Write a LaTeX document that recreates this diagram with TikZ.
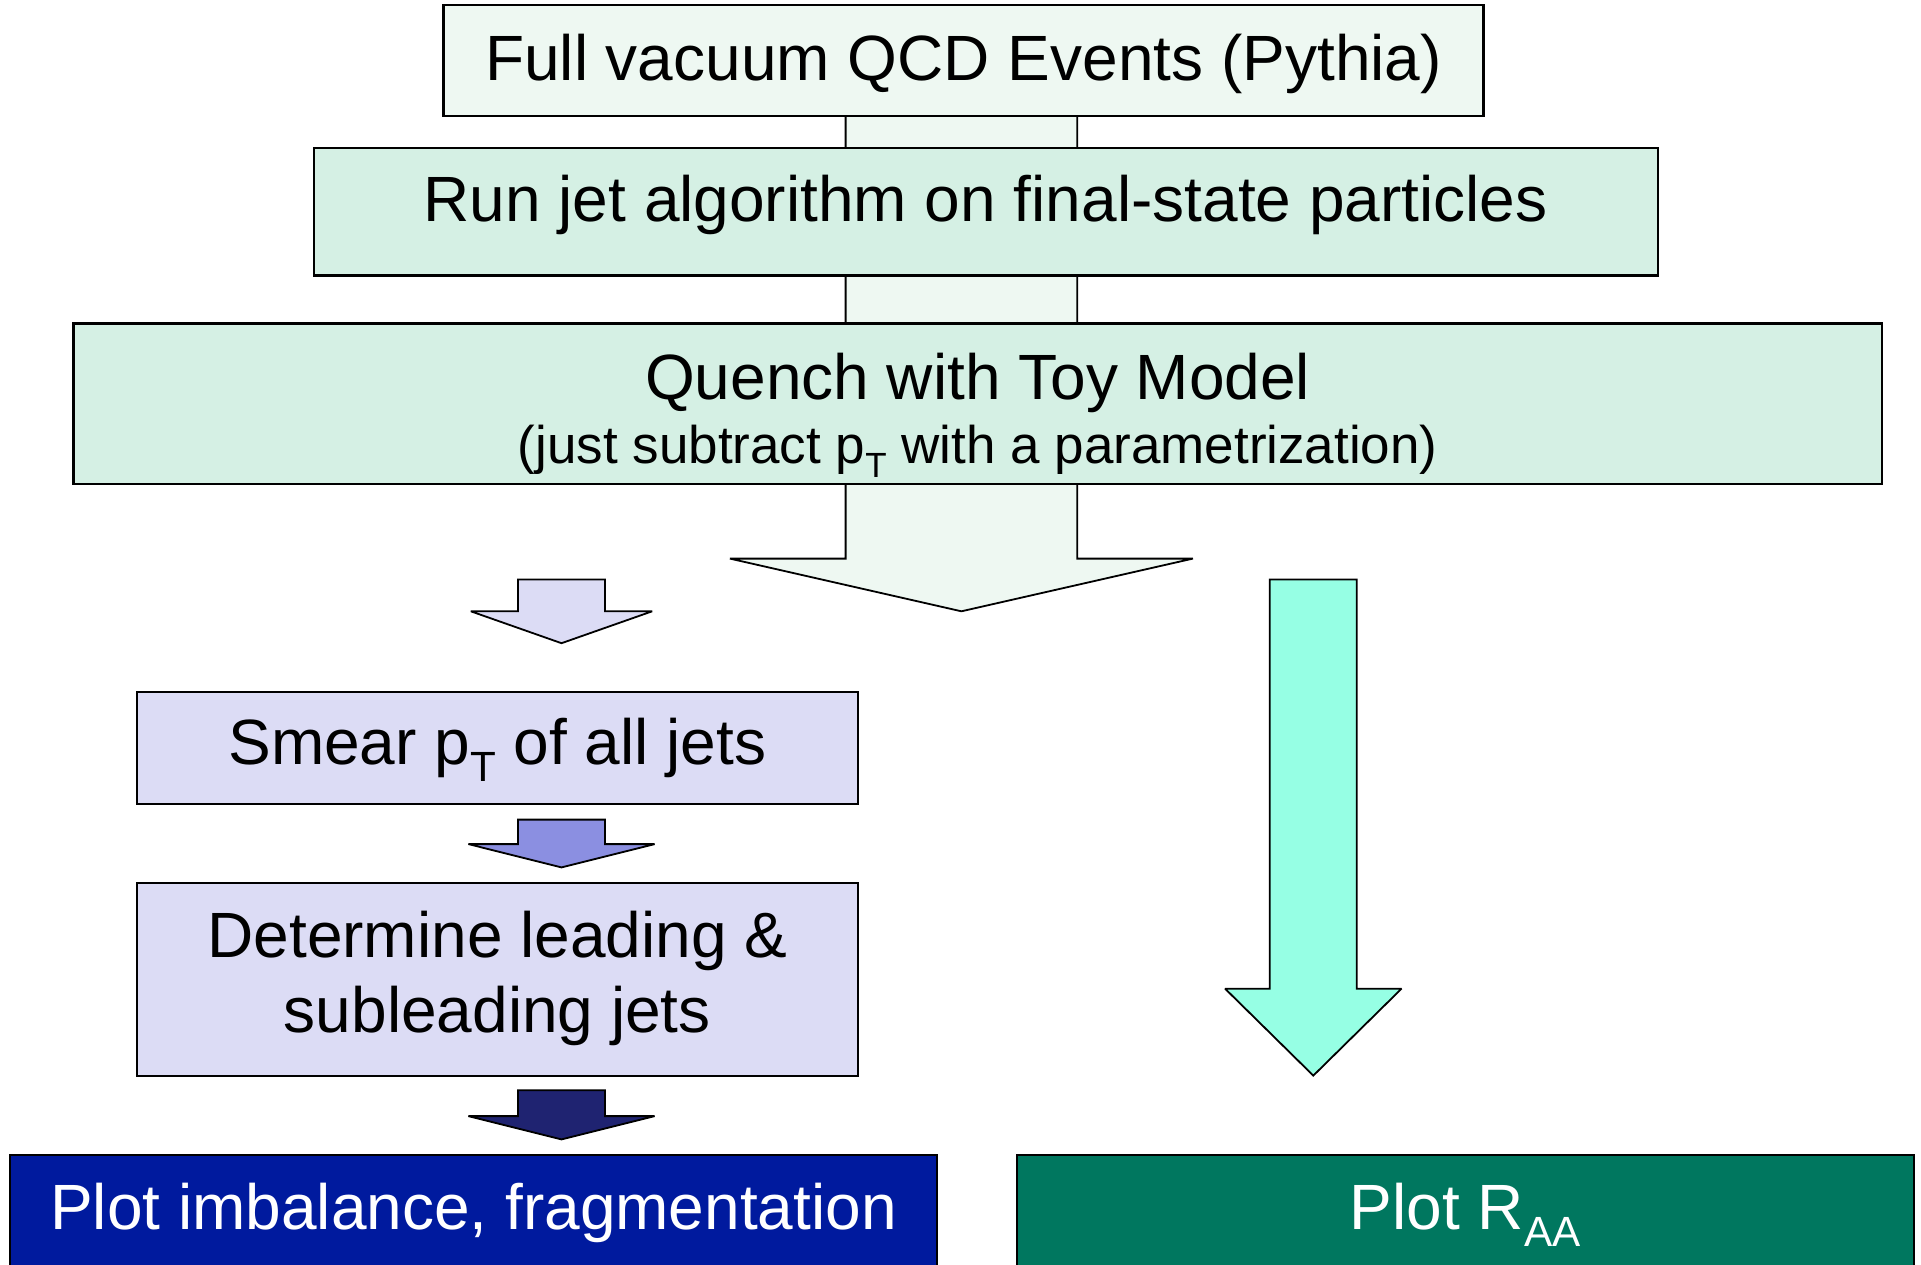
\documentclass[tikz,border=0pt]{standalone}
\usepackage{fontspec}
\setmainfont{Liberation Sans}
\usepackage{tikz}

\definecolor{mintpale}{HTML}{EEF8F2}
\definecolor{mint}{HTML}{D5F0E4}
\definecolor{lavender}{HTML}{DCDCF5}
\definecolor{periwinkle}{HTML}{8B8FE1}
\definecolor{navyarrow}{HTML}{1F2371}
\definecolor{royalbox}{HTML}{001A9E}
\definecolor{jadebox}{HTML}{00775F}
\definecolor{aquaarrow}{HTML}{96FFE4}

\newcommand{\lowsub}[1]{\raisebox{-0.27em}{\scalebox{0.66}{#1}}}
% fat down arrow: style, x, top, base of head, tip, half shaft, half head
\newcommand{\downblock}[7]{%
  \filldraw[#1] ({#2-#6},#3) -- ({#2+#6},#3) -- ({#2+#6},#4) -- ({#2+#7},#4)
    -- (#2,#5) -- ({#2-#7},#4) -- ({#2-#6},#4) -- cycle;}

\begin{document}
\begin{tikzpicture}[x=1pt,y=-1pt]
\tikzstyle{box}=[draw,line width=2.2pt,rectangle,inner sep=0pt,align=center,
  text height=47pt,font=\fontsize{64}{70.4}\selectfont];
\tikzstyle{blockarrow}=[draw=black,line width=1.8pt,line join=miter,miter limit=2];
\useasboundingbox (0,0) rectangle (1921,1265);
\clip (0,0) rectangle (1921,1265);

% big arrow runs behind the three top boxes
\downblock{blockarrow,fill=mintpale}{961.4}{5}{558.6}{611.3}{115.8}{231.5}

\node[box,fill=mintpale,minimum width=1040pt,minimum height=111.5pt,text depth=6.4pt]
  (pythia) at (963.5,60.6) {Full vacuum QCD Events (Pythia)};
\node[box,fill=mint,minimum width=1344pt,minimum height=127.4pt,text depth=27.4pt]
  (jetalgo) at (985.6,211.9) {Run jet algorithm on final-state particles};
\node[box,fill=mint,minimum width=1808.3pt,minimum height=160.5pt,text height=130pt,text depth=11.4pt]
  (quench) at (977.7,403.7) {Quench with Toy Model\\[-6.7pt]
  {\fontsize{53}{64}\selectfont (just subtract p\lowsub{T} with a parametrization)}};

% left branch
\downblock{blockarrow,fill=lavender}{561.5}{579.5}{611.3}{643.2}{43.5}{90.7}
\node[box,fill=lavender,minimum width=720.4pt,minimum height=111.5pt,text depth=15pt]
  (smear) at (497.4,748) {Smear p\lowsub{T} of all jets};
\downblock{blockarrow,fill=periwinkle}{561.5}{819.6}{844.1}{867.4}{43.5}{93.1}
\node[box,fill=lavender,minimum width=720.4pt,minimum height=192.3pt,text height=127pt,text depth=21.6pt]
  (leading) at (497.4,979.5) {Determine leading \&\\[4.6pt]subleading jets};
\downblock{blockarrow,fill=navyarrow}{561.5}{1090.3}{1116.1}{1139.4}{43.5}{93.1}
\node[box,fill=royalbox,text=white,minimum width=927.4pt,minimum height=140pt,text depth=39pt]
  (imbalance) at (473.5,1225.3) {Plot imbalance, fragmentation};

% right branch
\downblock{blockarrow,fill=aquaarrow}{1313.3}{579.5}{988.7}{1075.6}{43.5}{88.2}
\node[box,fill=jadebox,text=white,minimum width=896.8pt,minimum height=140pt,text depth=39pt]
  (raa) at (1465.2,1225.3) {Plot R\lowsub{AA}};
\end{tikzpicture}
\end{document}
